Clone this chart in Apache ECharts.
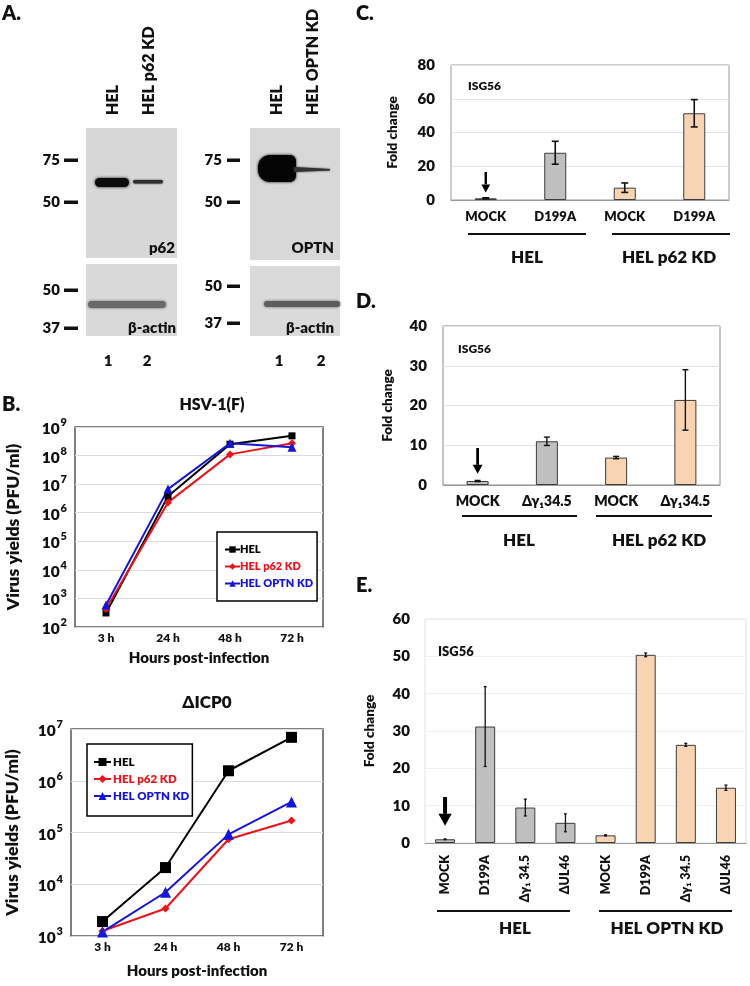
<!DOCTYPE html>
<html><head><meta charset="utf-8">
<script src="https://cdn.jsdelivr.net/npm/echarts@6/dist/echarts.min.js"></script>
<style>html,body{margin:0;padding:0;background:#fff}#c{width:750px;height:986px}</style>
</head><body><div id="c"></div>
<script>
// ---------- DATA ----------
const hours = ['3 h', '24 h', '48 h', '72 h'];
const seriesNames = ['HEL', 'HEL p62 KD', 'HEL OPTN KD'];
// Panel B, HSV-1(F)
const wtHEL  = [310, 3.8e6, 2.5e8, 4.9e8];
const wtP62  = [430, 2.3e6, 1.1e8, 2.7e8];
const wtOPTN = [590, 6.7e6, 2.7e8, 1.95e8];
// Panel B, ΔICP0
const icpHEL  = [1.9e3, 2.1e4, 1.56e6, 6.9e6];
const icpP62  = [1.25e3, 3.4e3, 7.4e4, 1.7e5];
const icpOPTN = [1.2e3, 7.0e3, 9.2e4, 3.9e5];
// Panel C
const cCats  = ['MOCK', 'D199A', 'MOCK', 'D199A'];
const cGroup = ['HEL', 'HEL', 'KD', 'KD'];
const cVals  = [1, 28.0, 7.3, 51.4];
const cErr   = [0.3, 6.8, 2.8, 8.1];
const cArrow = [[0, 16.6, 4.5]];
// Panel D
const dCats  = ['MOCK', 'Δγ₁34.5', 'MOCK', 'Δγ₁34.5'];
const dGroup = ['HEL', 'HEL', 'KD', 'KD'];
const dVals  = [1, 11.0, 6.9, 21.4];
const dErr   = [0.15, 1.05, 0.3, 7.6];
const dArrow = [[0, 9.3, 2.8]];
// Panel E
const eCats  = ['MOCK', 'D199A', 'Δγ₁ 34.5', 'ΔUL46', 'MOCK', 'D199A', 'Δγ₁ 34.5', 'ΔUL46'];
const eGroup = ['HEL', 'HEL', 'HEL', 'HEL', 'KD', 'KD', 'KD', 'KD'];
const eVals  = [1, 31.2, 9.5, 5.4, 2.05, 50.4, 26.3, 14.8];
const eErr   = [0.1, 10.7, 2.25, 2.4, 0.15, 0.5, 0.4, 0.7];
const eArrow = [[0, 12.3, 4.6]];
// Tick settings
const cTicks = {min: 0, max: 80, interval: 20};
const dTicks = {min: 0, max: 40, interval: 10};
const eTicks = {min: 0, max: 60, interval: 10};

// ---------- STYLE ----------
const FONT = 'Lato, "Open Sans", "DejaVu Sans", sans-serif';
const W = 800;
const GRAY = '#bfbfbf', PEACH = '#f9d4b3', EDGE = '#3c3c3c';
const RED = '#e8141c', BLUE = '#1515d6';

function errRender(cap, lw) {
  return function (params, api) {
    const x = api.value(0), lo = api.value(1), hi = api.value(2);
    const p1 = api.coord([x, lo]), p2 = api.coord([x, hi]);
    const st = {stroke: '#111', lineWidth: lw};
    return {type: 'group', children: [
      {type: 'line', shape: {x1: p1[0], y1: p1[1], x2: p2[0], y2: p2[1]}, style: st},
      {type: 'line', shape: {x1: p1[0] - cap, y1: p1[1], x2: p1[0] + cap, y2: p1[1]}, style: st},
      {type: 'line', shape: {x1: p2[0] - cap, y1: p2[1], x2: p2[0] + cap, y2: p2[1]}, style: st}
    ]};
  };
}
function arrowRender(head, shaft) {
  return function (params, api) {
    const x = api.value(0);
    const a = api.coord([x, api.value(1)]), b = api.coord([x, api.value(2)]);
    return {type: 'group', children: [
      {type: 'line', shape: {x1: a[0], y1: a[1], x2: b[0], y2: b[1] - head}, style: {stroke: '#000', lineWidth: shaft}},
      {type: 'polygon', shape: {points: [[b[0] - head * 0.55, b[1] - head], [b[0] + head * 0.55, b[1] - head], [b[0], b[1]]]}, style: {fill: '#000'}}
    ]};
  };
}
function barData(vals, groups) {
  return vals.map((v, i) => ({value: v, itemStyle: {color: groups[i] === 'HEL' ? GRAY : PEACH}}));
}
function errData(vals, errs) { return vals.map((v, i) => [i, v - errs[i], v + errs[i]]); }

function supLabel(v) {
  const e = Math.round(Math.log10(v));
  return '{b|10}{s|' + e + '}';
}
const supRich = {
  b: {fontSize: 15.5, fontWeight: W, fontFamily: FONT, color: '#111', lineHeight: 20, verticalAlign: 'bottom'},
  s: {fontSize: 11, fontWeight: W, fontFamily: FONT, color: '#111', lineHeight: 20, verticalAlign: 'top', padding: [0, 0, 0, 1]}
};

const boldTxt = (extra) => Object.assign({fontWeight: W, fontFamily: FONT, color: '#111'}, extra);

// ---------- GRIDS ----------
const grids = [
  {left: 75, top: 427, width: 248, height: 200, show: true, borderColor: '#555', borderWidth: 1.5},   // B1
  {left: 71, top: 729, width: 252, height: 207, show: true, borderColor: '#555', borderWidth: 1.5},   // B2
  {left: 451, top: 65, width: 278, height: 135, show: true, borderColor: '#9a9a9a', borderWidth: 1},  // C
  {left: 443, top: 326, width: 277, height: 159, show: true, borderColor: '#8a8a8a', borderWidth: 1}, // D
  {left: 425, top: 619, width: 321, height: 224, show: true, borderColor: '#e2e2e2', borderWidth: 1}  // E
];

function logY(gi, min, max, nameGap) {
  return {
    type: 'log', logBase: 10, min: min, max: max, gridIndex: gi,
    name: 'Virus yields (PFU/ml)', nameLocation: 'middle', nameGap: nameGap,
    nameTextStyle: boldTxt({fontSize: 17.5}),
    axisLine: {show: false}, axisTick: {show: false},
    axisLabel: {formatter: supLabel, rich: supRich, margin: 8},
    splitLine: {show: true, lineStyle: {color: '#dcdcdc', width: 1}}
  };
}
function hoursX(gi, nameGap) {
  return {
    type: 'category', data: hours, gridIndex: gi,
    name: 'Hours post-infection', nameLocation: 'middle', nameGap: nameGap,
    nameTextStyle: boldTxt({fontSize: 15}),
    axisLine: {show: false}, axisTick: {show: false},
    axisLabel: boldTxt({fontSize: 12, margin: 5})
  };
}
function foldY(gi, t, nameGap, gridColor, labelMargin) {
  return {
    type: 'value', gridIndex: gi, min: t.min, max: t.max, interval: t.interval,
    name: 'Fold change', nameLocation: 'middle', nameGap: nameGap,
    nameTextStyle: boldTxt({fontSize: 13.5}),
    axisLine: {show: false}, axisTick: {show: false},
    axisLabel: boldTxt({fontSize: 15, margin: labelMargin}),
    splitLine: {show: true, lineStyle: {color: gridColor}}
  };
}
function catX(gi, cats, opts) {
  return {
    type: 'category', data: cats, gridIndex: gi,
    axisLine: {show: true, lineStyle: {color: '#9a9a9a', width: 1}},
    axisTick: {show: false},
    axisLabel: boldTxt(Object.assign({fontSize: 13, interval: 0}, opts))
  };
}

const xAxes = [
  hoursX(0, 24),
  hoursX(1, 28),
  catX(2, cCats, {margin: 10}),
  catX(3, dCats, {margin: 9, fontSize: 14}),
  catX(4, eCats, {margin: 12, rotate: 90, fontSize: 12.5})
];
const yAxes = [
  logY(0, 100, 1e9, 53),
  logY(1, 1000, 1e7, 50),
  foldY(2, cTicks, 51, '#e4e4e4', 16),
  foldY(3, dTicks, 48, '#e4e4e4', 16),
  foldY(4, eTicks, 48, '#f0f0f0', 15)
];

function lineS(name, data, gi, color, symbol, size) {
  return {type: 'line', name: name, data: data, xAxisIndex: gi, yAxisIndex: gi,
    symbol: symbol, symbolSize: size, showSymbol: true,
    lineStyle: {color: color, width: 2}, itemStyle: {color: color}, z: 3};
}

const series = [
  lineS(seriesNames[0], wtHEL, 0, '#000', 'rect', 7),
  lineS(seriesNames[1], wtP62, 0, RED, 'diamond', 8),
  lineS(seriesNames[2], wtOPTN, 0, BLUE, 'triangle', 9),
  lineS(seriesNames[0] + ' ', icpHEL, 1, '#000', 'rect', 11),
  lineS(seriesNames[1] + ' ', icpP62, 1, RED, 'diamond', 8),
  lineS(seriesNames[2] + ' ', icpOPTN, 1, BLUE, 'triangle', 11),
  // C
  {type: 'bar', xAxisIndex: 2, yAxisIndex: 2, data: barData(cVals, cGroup), barWidth: 22,
   itemStyle: {borderColor: EDGE, borderWidth: 1}},
  {type: 'custom', xAxisIndex: 2, yAxisIndex: 2, data: errData(cVals, cErr), renderItem: errRender(3.5, 1.6), encode: {x: 0, y: [1, 2]}, z: 5},
  {type: 'custom', xAxisIndex: 2, yAxisIndex: 2, data: cArrow, renderItem: arrowRender(8, 2.4), encode: {x: 0, y: [1, 2]}, z: 5},
  // D
  {type: 'bar', xAxisIndex: 3, yAxisIndex: 3, data: barData(dVals, dGroup), barWidth: 22,
   itemStyle: {borderColor: EDGE, borderWidth: 1}},
  {type: 'custom', xAxisIndex: 3, yAxisIndex: 3, data: errData(dVals, dErr), renderItem: errRender(3, 1.4), encode: {x: 0, y: [1, 2]}, z: 5},
  {type: 'custom', xAxisIndex: 3, yAxisIndex: 3, data: dArrow, renderItem: arrowRender(9, 2.8), encode: {x: 0, y: [1, 2]}, z: 5},
  // E
  {type: 'bar', xAxisIndex: 4, yAxisIndex: 4, data: barData(eVals, eGroup), barWidth: 20,
   itemStyle: {borderColor: EDGE, borderWidth: 1}},
  {type: 'custom', xAxisIndex: 4, yAxisIndex: 4, data: errData(eVals, eErr), renderItem: errRender(1.5, 1.3), encode: {x: 0, y: [1, 2]}, z: 5},
  {type: 'custom', xAxisIndex: 4, yAxisIndex: 4, data: eArrow, renderItem: arrowRender(12, 4), encode: {x: 0, y: [1, 2]}, z: 5}
];

const legendCommon = {
  orient: 'vertical', selectedMode: false, backgroundColor: '#fff',
  borderColor: '#000', borderWidth: 1.5, borderRadius: 0,
  formatter: n => n.trim()
};
const legends = [
  Object.assign({}, legendCommon, {
    left: 217, top: 532, padding: [12, 4, 12, 7], itemGap: 6, itemWidth: 15, itemHeight: 8,
    textStyle: boldTxt({fontSize: 11, padding: [0, 0, 0, -5]}),
    data: [
      {name: seriesNames[0], textStyle: {color: '#000'}},
      {name: seriesNames[1], textStyle: {color: RED}},
      {name: seriesNames[2], textStyle: {color: BLUE}}
    ]
  }),
  Object.assign({}, legendCommon, {
    left: 87, top: 744, padding: [12, 3, 14, 6], itemGap: 5, itemWidth: 17, itemHeight: 10,
    textStyle: boldTxt({fontSize: 11.5, padding: [0, 0, 0, -3]}),
    data: [
      {name: seriesNames[0] + ' ', textStyle: {color: '#000'}},
      {name: seriesNames[1] + ' ', textStyle: {color: RED}},
      {name: seriesNames[2] + ' ', textStyle: {color: BLUE}}
    ]
  })
];

// ---------- FREE TEXT / DECORATION ----------
function txt(x, y, s, size, opts) {
  return Object.assign({type: 'text', x: x, y: y, z: 10,
    style: Object.assign({text: s, font: W + ' ' + size + 'px ' + FONT, fill: '#111',
      align: 'center', verticalAlign: 'middle'}, (opts && opts.style) || {})},
    opts && opts.rotation ? {rotation: opts.rotation} : {});
}
function hline(x1, x2, y, w) {
  return {type: 'line', z: 10, shape: {x1: x1, y1: y, x2: x2, y2: y}, style: {stroke: '#111', lineWidth: w || 2}};
}
function rect(x, y, w, h, fill) {
  return {type: 'rect', z: 1, shape: {x: x, y: y, width: w, height: h}, style: {fill: fill}};
}
function band(x, y, w, h, fill, blur, r) {
  return {type: 'rect', z: 2, shape: {x: x, y: y, width: w, height: h, r: r == null ? h / 2 : r},
    style: {fill: fill, shadowBlur: blur, shadowColor: fill}};
}
const left = () => ({style: {align: 'left'}});
const right = () => ({style: {align: 'right'}});
const vert = {rotation: Math.PI / 2, style: {align: 'left'}};

const graphic = [
  // panel letters
  txt(2, 14, 'A.', 20, left()),
  txt(2, 405, 'B.', 20, left()),
  txt(356, 14, 'C.', 20, left()),
  txt(356, 302, 'D.', 20, left()),
  txt(356, 586, 'E.', 20, left()),
  // blot lane labels
  txt(113, 115, 'HEL', 16, vert),
  txt(149, 115, 'HEL p62 KD', 16, vert),
  txt(277, 115, 'HEL', 16, vert),
  txt(313, 115, 'HEL OPTN KD', 16, vert),
  // blot panels
  rect(86, 128, 91, 130, '#d7d7d7'),
  rect(86, 264, 91, 72, '#d9d9d9'),
  rect(250, 128, 90, 132, '#d8d8d8'),
  rect(250, 266, 90, 70, '#dadada'),
  // bands
  band(95, 178, 34, 9, '#0d0d0d', 3),
  band(133, 180, 30, 3.5, '#303030', 2),
  band(258, 155, 38, 27, '#050505', 3, [12, 6, 6, 12]),
  {type: 'polygon', z: 2, shape: {points: [[294, 167], [330, 169], [330, 170.5], [294, 172]]},
   style: {fill: '#333', shadowBlur: 2, shadowColor: '#333'}},
  band(88, 301, 78, 7, '#6a6a6a', 3),
  band(264, 301, 76, 6, '#5e5e5e', 3),
  // MW markers
  txt(60, 160, '75', 15, right()), rect(64, 158.5, 14, 3.5, '#111'),
  txt(60, 202, '50', 15, right()), rect(64, 200.5, 14, 3.5, '#111'),
  txt(60, 290, '50', 15, right()), rect(64, 288.5, 14, 3.5, '#111'),
  txt(60, 328, '37', 15, right()), rect(64, 326.5, 14, 3.5, '#111'),
  txt(222, 160, '75', 15, right()), rect(227, 158.5, 13, 3.5, '#111'),
  txt(222, 202, '50', 15, right()), rect(227, 200.5, 13, 3.5, '#111'),
  txt(222, 286, '50', 15, right()), rect(227, 284.5, 13, 3.5, '#111'),
  txt(222, 323, '37', 15, right()), rect(227, 321.5, 13, 3.5, '#111'),
  // blot panel labels
  txt(175, 248, 'p62', 15, right()),
  txt(334, 248, 'OPTN', 15, right()),
  txt(176, 328, 'β-actin', 15, right()),
  txt(334, 328, 'β-actin', 15, right()),
  // lane numbers
  txt(108, 361, '1', 15), txt(147, 361, '2', 15),
  txt(279, 361, '1', 15), txt(321, 361, '2', 15),
  // chart titles
  txt(212, 405, 'HSV-1(F)', 16),
  txt(207, 703, 'ΔICP0', 17),
  // ISG56
  txt(468, 86, 'ISG56', 12, left()),
  txt(458, 349, 'ISG56', 12, left()),
  txt(438, 652, 'ISG56', 13, left()),
  // group underlines and labels
  hline(468, 586, 234), hline(612, 730, 234),
  txt(527, 258, 'HEL', 17), txt(669, 258, 'HEL p62 KD', 17),
  hline(462, 577, 516), hline(596, 712, 516),
  txt(519, 541, 'HEL', 17), txt(659, 541, 'HEL p62 KD', 17),
  hline(437, 570, 911), hline(599, 732, 911),
  txt(515, 929, 'HEL', 17), txt(667, 929, 'HEL OPTN KD', 17)
];

const chart = echarts.init(document.getElementById('c'), null, {renderer: 'canvas'});
chart.setOption({
  backgroundColor: '#fff',
  animation: false,
  textStyle: {fontFamily: FONT},
  grid: grids,
  xAxis: xAxes,
  yAxis: yAxes,
  legend: legends,
  series: series,
  graphic: graphic
});
</script></body></html>
